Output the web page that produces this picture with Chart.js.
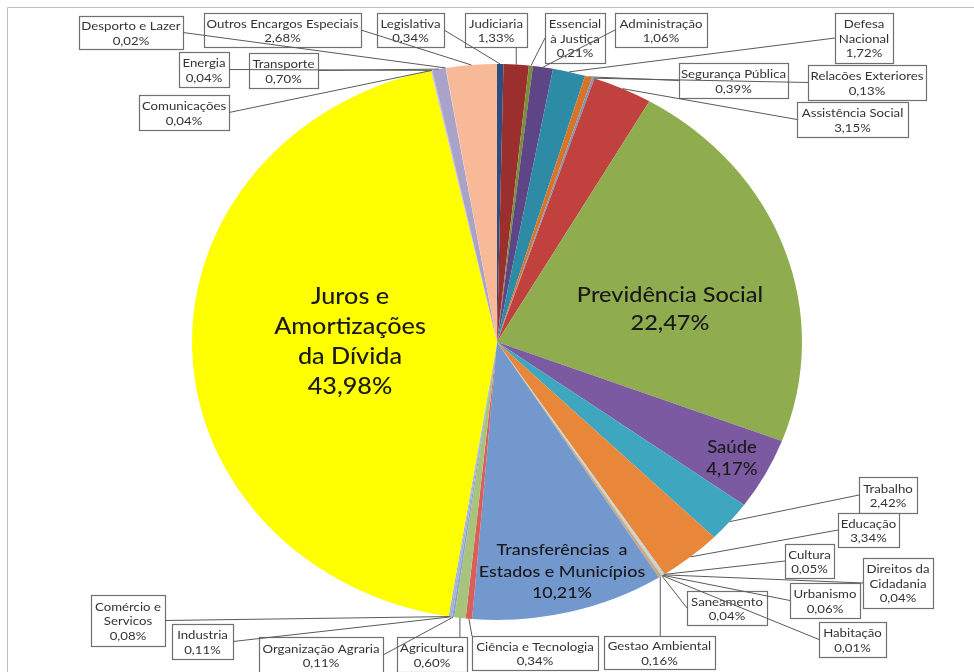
<!DOCTYPE html>
<html lang="pt-BR">
<head>
<meta charset="utf-8">
<title>Orçamento Geral da União</title>
<script src="https://cdn.jsdelivr.net/npm/chart.js@4.4.1/dist/chart.umd.min.js"></script>
<style>
    html, body { margin: 0; padding: 0; background: #fff; }
    #area { width: 974px; height: 672px; position: relative; }
</style>
</head>
<body>
<div id="area"><canvas id="graficoPizza"></canvas></div>
<script>
// Categorias na ordem do gráfico (sentido horário a partir do topo)
const categorias = [
    "Legislativa", "Judiciaria", ["Essencial", "à Justiça"], "Administração",
    ["Defesa", "Nacional"], "Segurança Pública", "Relacões Exteriores", "Assistência Social",
    "Previdência Social", "Saúde", "Trabalho", "Educação", "Cultura",
    ["Direitos da", "Cidadania"], "Urbanismo", "Habitação", "Saneamento", "Gestao Ambiental",
    ["Transferências  a", "Estados e Municípios"], "Ciência e Tecnologia", "Agricultura",
    "Organização Agraria", "Industria", ["Comércio e", "Servicos"],
    ["Juros e", "Amortizações", "da Dívida"], "Comunicações", "Energia", "Transporte",
    "Desporto e Lazer", "Outros Encargos Especiais"
];

// Percentual de cada função
const valores = [
    0.34, 1.33, 0.21, 1.06,
    1.72, 0.39, 0.13, 3.15,
    22.47, 4.17, 2.42, 3.34, 0.05,
    0.04, 0.06, 0.01, 0.04, 0.16,
    10.21, 0.34, 0.60,
    0.11, 0.11, 0.08,
    43.98, 0.04, 0.04, 0.70,
    0.02, 2.68
];

const cores = [
    "#2C4D82", "#9B2F2D", "#7A8F3A", "#5E4585",
    "#2E8BA5", "#D8742A", "#7F95B8", "#C0413E",
    "#8FAC4F", "#7B5AA2", "#3FA6C0", "#E8873A", "#B4C7E7",
    "#E6B9B8", "#C4D79B", "#B3A2C7", "#93CDDD", "#C8A882",
    "#7398CE", "#D9605A", "#A8C47A",
    "#8AA0C8", "#A0B0D0", "#9AB0D8",
    "#FFFF00", "#C6BCDA", "#B8B0D0", "#A9A3C9",
    "#D0C8E0", "#F8B998"
];

// Posição dos rótulos: caixa [x, y, largura, altura] e lado da linha guia, ou texto dentro da fatia
const posicoes = [
    { caixa: [377, 13, 67, 34], lado: "d" },
    { caixa: [465, 13, 62, 34], lado: "b" },
    { caixa: [545, 13, 60, 50], lado: "e" },
    { caixa: [615, 13, 92, 34], lado: "e" },
    { caixa: [835, 13, 58, 50], lado: "e" },
    { caixa: [679, 63, 109, 35], lado: "e" },
    { caixa: [808, 65, 118, 35], lado: "e" },
    { caixa: [797, 102, 111, 35], lado: "e" },
    { dentro: [670, 295], fonte: 21, entre: 28 },
    { dentro: [732, 448], fonte: 16.5, entre: 22 },
    { caixa: [859, 477, 58, 36], lado: "e" },
    { caixa: [838, 513, 61, 34], lado: "e" },
    { caixa: [785, 544, 49, 34], lado: "e" },
    { caixa: [863, 558, 70, 50], lado: "e" },
    { caixa: [790, 583, 70, 35], lado: "e" },
    { caixa: [819, 622, 67, 35], lado: "e" },
    { caixa: [687, 591, 80, 34], lado: "e" },
    { caixa: [604, 636, 111, 33], lado: "t" },
    { dentro: [562, 550], fonte: 16, entre: 21.5 },
    { caixa: [472, 636, 126, 34], lado: "t" },
    { caixa: [397, 637, 70, 35], lado: "t" },
    { caixa: [259, 637, 124, 36], lado: "d" },
    { caixa: [172, 624, 61, 35], lado: "d" },
    { caixa: [91, 595, 74, 51], lado: "d" },
    { dentro: [350, 297], fonte: 22.5, entre: 30 },
    { caixa: [139, 95, 90, 35], lado: "d" },
    { caixa: [179, 52, 50, 35], lado: "d" },
    { caixa: [249, 53, 69, 35], lado: "d" },
    { caixa: [79, 16, 104, 33], lado: "d" },
    { caixa: [204, 13, 157, 34], lado: "d" }
];

const ESCALA_X = 1.097;   // a pizza original é levemente achatada
const ESTICA_TEXTO = 1.12; // o texto também aparece esticado
const FONTE = "Lato, 'Open Sans', sans-serif";

function formatarPct(v) {
    return v.toFixed(2).replace(".", ",") + "%";
}

function textoEsticado(ctx, t, x, y) {
    ctx.save();
    ctx.translate(x, y);
    ctx.scale(ESTICA_TEXTO, 1);
    ctx.fillText(t, 0, 0);
    ctx.restore();
}

// Fundo branco e moldura cinza
const pluginFundo = {
    id: "fundo",
    beforeDraw(chart) {
        const ctx = chart.ctx;
        ctx.save();
        ctx.fillStyle = "#ffffff";
        ctx.fillRect(0, 0, chart.width, chart.height);
        ctx.strokeStyle = "#BFBFBF";
        ctx.lineWidth = 1;
        ctx.beginPath();
        ctx.moveTo(7.5, chart.height);
        ctx.lineTo(7.5, 7.5);
        ctx.lineTo(chart.width, 7.5);
        ctx.stroke();
        ctx.restore();
    }
};

// Estica a pizza na horizontal
const pluginElipse = {
    id: "elipse",
    beforeDatasetsDraw(chart) {
        const arco = chart.getDatasetMeta(0).data[0];
        const ctx = chart.ctx;
        ctx.save();
        ctx.translate(arco.x, arco.y);
        ctx.scale(ESCALA_X, 1);
        ctx.translate(-arco.x, -arco.y);
    },
    afterDatasetsDraw(chart) {
        chart.ctx.restore();
    }
};

// Rótulos com caixas e linhas guia
const pluginRotulos = {
    id: "rotulos",
    afterDraw(chart) {
        const ctx = chart.ctx;
        const arcos = chart.getDatasetMeta(0).data;
        const linhas = [];

        ctx.save();
        ctx.textAlign = "center";
        ctx.textBaseline = "middle";

        arcos.forEach((arco, i) => {
            const p = posicoes[i];
            const nome = chart.data.labels[i];
            const texto = (Array.isArray(nome) ? nome.slice() : [nome]);
            texto.push(formatarPct(valores[i]));

            if (p.dentro) {
                ctx.fillStyle = "#1A1A1A";
                ctx.font = "500 " + p.fonte + "px " + FONTE;
                texto.forEach((t, k) => textoEsticado(ctx, t, p.dentro[0], p.dentro[1] + k * p.entre));
                return;
            }

            const [x, y, w, h] = p.caixa;
            ctx.fillStyle = "#ffffff";
            ctx.fillRect(x, y, w, h);
            ctx.strokeStyle = "#707070";
            ctx.lineWidth = 1.2;
            ctx.strokeRect(x + 0.5, y + 0.5, w, h);

            ctx.fillStyle = "#333333";
            ctx.font = "11.8px " + FONTE;
            const lh = 14.5;
            const y0 = y + h / 2 - (texto.length * lh) / 2 + lh / 2 + 1;
            texto.forEach((t, k) => textoEsticado(ctx, t, x + w / 2, y0 + k * lh));

            // ponto na borda da fatia, no meio do ângulo
            const meio = (arco.startAngle + arco.endAngle) / 2;
            const px = arco.x + Math.cos(meio) * arco.outerRadius * ESCALA_X;
            const py = arco.y + Math.sin(meio) * arco.outerRadius;

            let ax, ay;
            if (p.lado === "e") { ax = x; ay = y + h / 2; }
            else if (p.lado === "d") { ax = x + w; ay = y + h / 2; }
            else if (p.lado === "t") { ax = Math.min(Math.max(px, x), x + w); ay = y; }
            else { ax = Math.min(Math.max(px, x), x + w); ay = y + h; }
            linhas.push([ax, ay, px, py]);
        });

        ctx.strokeStyle = "#5A5A5A";
        ctx.lineWidth = 1;
        linhas.forEach(([ax, ay, px, py]) => {
            ctx.beginPath();
            ctx.moveTo(ax, ay);
            ctx.lineTo(px, py);
            ctx.stroke();
        });
        ctx.restore();
    }
};

const ctx = document.getElementById("graficoPizza").getContext("2d");
new Chart(ctx, {
    type: "pie",
    data: {
        labels: categorias,
        datasets: [{
            data: valores,
            backgroundColor: cores,
            borderWidth: 0
        }]
    },
    options: {
        responsive: true,
        maintainAspectRatio: false,
        animation: false,
        layout: {
            padding: { left: 219, right: 199, top: 64, bottom: 52 }
        },
        plugins: {
            legend: { display: false },
            tooltip: { enabled: false }
        }
    },
    plugins: [pluginFundo, pluginElipse, pluginRotulos]
});
</script>
</body>
</html>
